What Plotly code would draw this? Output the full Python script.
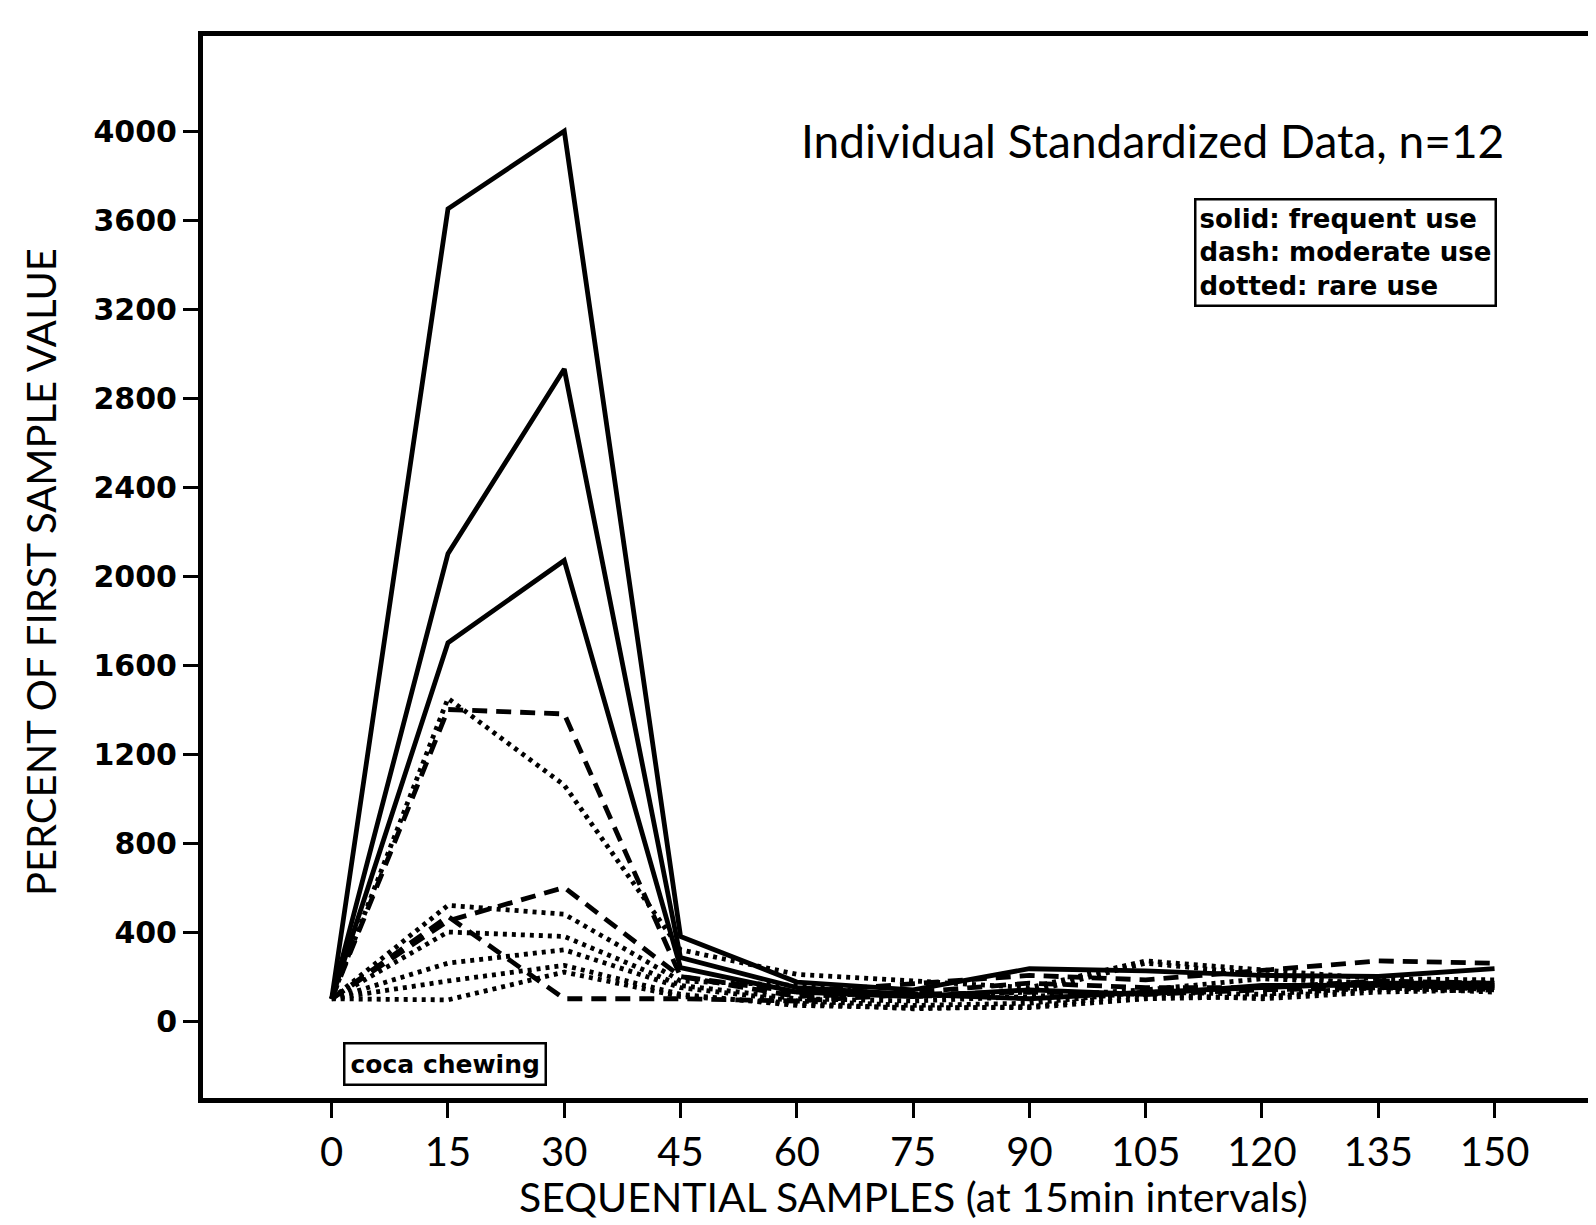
import plotly.graph_objects as go

# sampling times (minutes)
times = [0, 15, 30, 45, 60, 75, 90, 105, 120, 135, 150]

# frequent use (solid)
solid_1 = [100, 3650, 4000, 380, 175, 140, 235, 225, 205, 200, 235]
solid_2 = [100, 2100, 2930, 285, 150, 120, 100, 130, 150, 170, 170]
solid_3 = [100, 1700, 2070, 240, 130, 110, 140, 120, 160, 160, 150]

# moderate use (dash)
dash_1 = [100, 1400, 1380, 200, 130, 165, 205, 185, 230, 270, 260]
dash_2 = [100, 450, 600, 200, 110, 130, 170, 150, 150, 180, 170]
dash_3 = [100, 470, 100, 100, 90, 120, 130, 120, 140, 150, 150]

# rare use (dotted)
dot_1 = [100, 1450, 1060, 320, 210, 180, 150, 270, 230, 190, 185]
dot_2 = [100, 520, 480, 180, 160, 110, 130, 260, 210, 160, 160]
dot_3 = [100, 400, 380, 160, 100, 90, 110, 140, 190, 170, 140]
dot_4 = [100, 260, 320, 150, 90, 70, 80, 130, 120, 150, 130]
dot_5 = [100, 180, 250, 120, 70, 60, 60, 100, 110, 140, 150]
dot_6 = [100, 95, 220, 110, 80, 55, 65, 120, 100, 130, 140]

y_ticks = list(range(0, 4001, 400))
x_ticks = list(range(0, 151, 15))

FONT = "Lato"
BOLD = "DejaVu Sans"

fig = go.Figure()

groups = [
    ([solid_1, solid_2, solid_3], "solid", 4.8),
    ([dash_1, dash_2, dash_3], "15px,9px", 4.8),
    ([dot_1, dot_2, dot_3, dot_4, dot_5, dot_6], "4px,5px", 4.8),
]
for series_list, dash, w in groups:
    for s in series_list:
        fig.add_trace(go.Scatter(
            x=times, y=s, mode="lines",
            line=dict(color="black", width=w, dash=dash),
            showlegend=False, hoverinfo="skip"))

fig.update_xaxes(
    range=[-16.6, 162.7], tickvals=x_ticks, ticktext=[str(t) for t in x_ticks],
    showgrid=False, zeroline=False, showline=True, linecolor="black", linewidth=5,
    mirror=True, ticks="outside", ticklen=15, tickwidth=3, tickcolor="black",
    tickfont=dict(family=FONT, size=40, color="black"),
)
fig.update_yaxes(
    range=[-346, 4427], tickvals=y_ticks, ticktext=[str(t) for t in y_ticks],
    showgrid=False, zeroline=False, showline=True, linecolor="black", linewidth=5,
    mirror=True, ticks="outside", ticklen=15, tickwidth=3, tickcolor="black",
    tickfont=dict(family=BOLD, size=30, color="black", weight="bold"),
)

common = dict(xref="paper", yref="paper", showarrow=False,
              xanchor="center", yanchor="middle")
annotations = [
    dict(text="Individual Standardized Data, n=12", x=0.683, y=0.902,
         font=dict(family=FONT, size=46, color="black"), **common),
    dict(text="solid: frequent use<br>dash: moderate use<br>dotted: rare use",
         x=0.822, y=0.796, align="left", bordercolor="black", borderwidth=2.5,
         borderpad=3, bgcolor="white",
         font=dict(family=BOLD, size=26, color="black", weight="bold"), **common),
    dict(text="coca chewing", x=0.174, y=0.032, bordercolor="black",
         borderwidth=2.5, borderpad=5, bgcolor="white",
         font=dict(family=BOLD, size=25, color="black", weight="bold"), **common),
    dict(text="SEQUENTIAL SAMPLES (at 15min intervals)", x=0.511, y=-0.093,
         font=dict(family=FONT, size=41, color="black"), **common),
    dict(text="PERCENT OF FIRST SAMPLE VALUE", x=-0.116, y=0.495, textangle=-90,
         font=dict(family=FONT, size=40, color="black"), **common),
]

fig.update_layout(
    width=1596, height=1225,
    margin=dict(l=195, r=6, t=28, b=135),
    paper_bgcolor="white", plot_bgcolor="white",
    annotations=annotations,
    showlegend=False,
)

fig.write_html("out.html")
